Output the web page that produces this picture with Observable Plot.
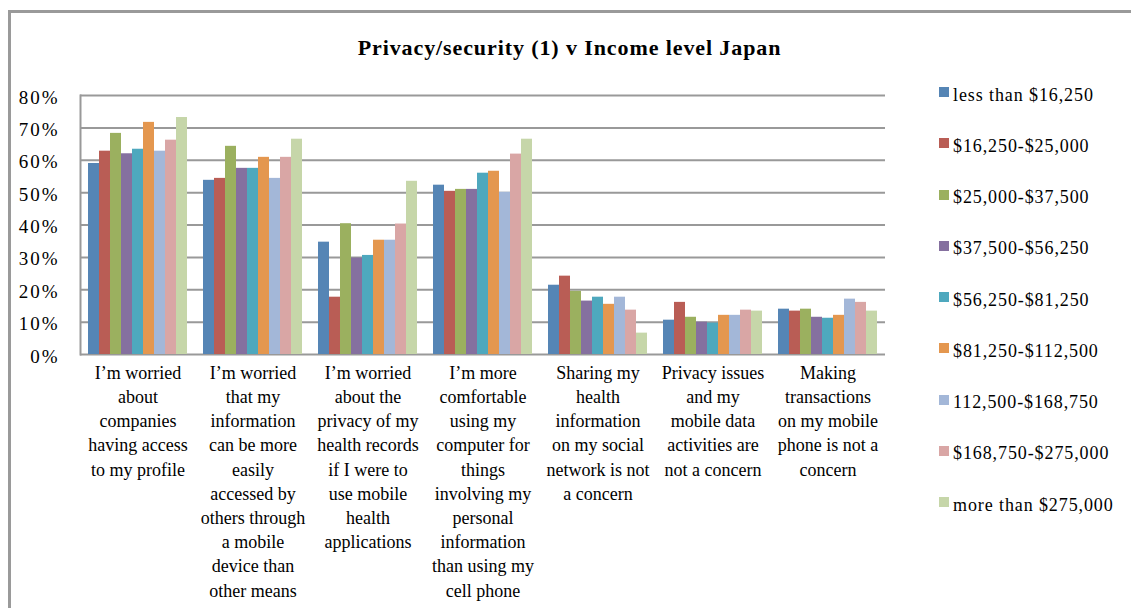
<!DOCTYPE html>
<html><head><meta charset="utf-8">
<script src="https://cdn.jsdelivr.net/npm/d3@7"></script>
<script src="https://cdn.jsdelivr.net/npm/@observablehq/plot@0.6"></script>
<style>
body{margin:0;background:#fff;}
#wrap{position:relative;width:1131px;height:608px;overflow:hidden;font-family:"Liberation Serif","Times New Roman",serif;color:#000;background:#fff;}
#border{position:absolute;left:8px;top:10px;width:1300px;height:800px;border-left:3px solid #9a9a9a;border-top:3px solid #9a9a9a;}
#title{position:absolute;left:8px;width:1123px;top:34px;text-align:center;font-weight:bold;font-size:22px;line-height:28px;letter-spacing:0.9px;}
#chart{position:absolute;left:0;top:0;}
#chart svg g[aria-label="y-axis tick label"] text{letter-spacing:2px;}
.leg{position:absolute;left:939px;height:22px;display:flex;align-items:center;font-size:18px;letter-spacing:0.9px;white-space:nowrap;}
.sw{width:10px;height:10px;margin-right:4px;position:relative;top:-3px;}
</style>
</head><body>
<div id="wrap">
  <div id="border"></div>
  <div id="title">Privacy/security (1) v Income level Japan</div>
  <div id="chart"></div>
  <div id="legend"></div>
</div>
<script>
const categories = [
  "I’m worried\nabout\ncompanies\nhaving access\nto my profile",
  "I’m worried\nthat my\ninformation\ncan be more\neasily\naccessed by\nothers through\na mobile\ndevice than\nother means",
  "I’m worried\nabout the\nprivacy of my\nhealth records\nif I were to\nuse mobile\nhealth\napplications",
  "I’m more\ncomfortable\nusing my\ncomputer for\nthings\ninvolving my\npersonal\ninformation\nthan using my\ncell phone",
  "Sharing my\nhealth\ninformation\non my social\nnetwork is not\na concern",
  "Privacy issues\nand my\nmobile data\nactivities are\nnot a concern",
  "Making\ntransactions\non my mobile\nphone is not a\nconcern"
];
const seriesNames = [
  "less than $16,250",
  "$16,250-$25,000",
  "$25,000-$37,500",
  "$37,500-$56,250",
  "$56,250-$81,250",
  "$81,250-$112,500",
  "112,500-$168,750",
  "$168,750-$275,000",
  "more than $275,000"
];
// values in percent, one array per income level, ordered as categories
const lessThan16250   = [59.0, 53.8, 34.7, 52.3, 21.4, 10.6, 14.0];
const from16250       = [62.8, 54.4, 17.7, 50.4, 24.2, 16.1, 13.4];
const from25000       = [68.3, 64.3, 40.4, 51.0, 19.5, 11.5, 14.0];
const from37500       = [62.0, 57.5, 29.8, 51.0, 16.5, 10.0, 11.5];
const from56250       = [63.4, 57.5, 30.6, 56.0, 17.7,  9.7, 11.2];
const from81250       = [71.7, 60.9, 35.3, 56.6, 15.5, 12.1, 12.1];
const from112500      = [62.8, 54.4, 35.3, 50.1, 17.7, 12.1, 17.1];
const from168750      = [66.2, 60.9, 40.3, 61.9, 13.7, 13.7, 16.1];
const moreThan275000  = [73.2, 66.5, 53.5, 66.5,  6.6, 13.4, 13.4];
const yTicks = [0, 10, 20, 30, 40, 50, 60, 70, 80];
const colors = ["#5585b5","#b95d55","#9bb05f","#85709f","#4ea8be","#e4974f","#a3b7d8","#d9a6a5","#c6d6a9"];

const seriesValues = [lessThan16250, from16250, from25000, from37500, from56250, from81250, from112500, from168750, moreThan275000];
const rows = [];
seriesValues.forEach((vals, si) => vals.forEach((v, ci) => rows.push({category: categories[ci], series: seriesNames[si], value: v})));

function build(withLine) {
  const marks = [
    Plot.ruleY(yTicks, {stroke: "#999", strokeWidth: 2}),
    Plot.barY(rows, {fx: "category", x: "series", y: "value", fill: "series"}),
    Plot.axisY({ticks: yTicks, anchor: "left", tickSize: 0, tickPadding: 21, tickFormat: d => d + "%", fontSize: 19, label: null, dy: 2}),
    Plot.axisFx({anchor: "bottom", tickSize: 0, tickPadding: 7, fontSize: 18, lineHeight: 1.345, label: null})
  ];
  if (withLine) marks.push(Plot.frame({anchor: "left", stroke: "#999", strokeWidth: 2, facet: "super"}));
  return Plot.plot({
    width: 900, height: 608,
    marginLeft: 77, marginRight: 12, marginTop: 95, marginBottom: 254,
    style: {fontFamily: "'Liberation Serif', 'Times New Roman', serif", fontSize: "18px", color: "#000", background: "transparent"},
    fx: {domain: categories, padding: 0, label: null, axis: null},
    x: {domain: seriesNames, paddingInner: 0, paddingOuter: 0.72, axis: null},
    y: {domain: [0, 80], axis: null},
    color: {domain: seriesNames, range: colors},
    marks
  });
}
let chart;
try { chart = build(true); } catch (e) { chart = build(false); }
document.getElementById("chart").appendChild(chart);

const legend = document.getElementById("legend");
seriesNames.forEach((name, i) => {
  const row = document.createElement("div");
  row.className = "leg";
  row.style.top = (95 + i * 51.25 - 11) + "px";
  const sw = document.createElement("div");
  sw.className = "sw";
  sw.style.background = colors[i];
  const t = document.createElement("span");
  t.textContent = name;
  row.appendChild(sw); row.appendChild(t);
  legend.appendChild(row);
});
</script>
</body></html>
